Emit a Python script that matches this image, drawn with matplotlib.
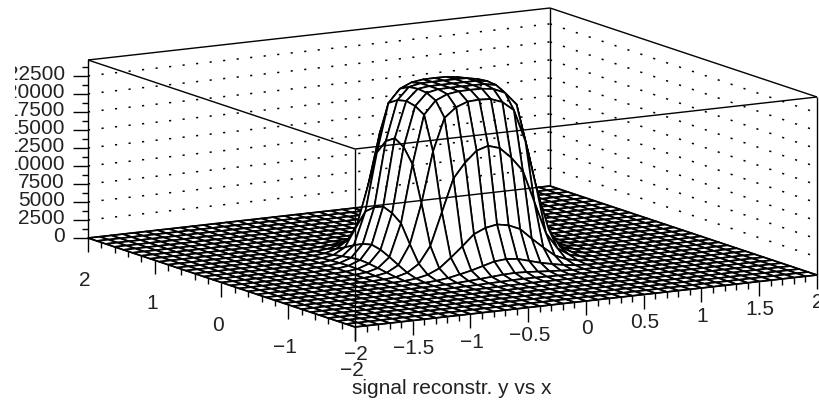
import matplotlib
matplotlib.use("Agg")
import matplotlib.pyplot as plt
from matplotlib.collections import LineCollection, PolyCollection
from matplotlib.patches import Rectangle
import numpy as np

plt.rcParams['font.family'] = ['Liberation Sans', 'DejaVu Sans']

# one quarter of the surface: rows step 0.1 in x, columns step 2/15 in y, outward from (0, 0)
quarter = np.array([
    [24000, 24000, 23950, 23000, 17000, 6500, 2100, 600, 200, 60, 15, 3],
    [24000, 24000, 23920, 22900, 16500, 6200, 1950, 540, 180, 55, 14, 3],
    [24000, 23980, 23700, 22300, 15000, 5500, 1500, 420, 140, 45, 11, 2],
    [23800, 23650, 23000, 21000, 13000, 4000, 1050, 300, 100, 32, 8, 2],
    [22300, 22000, 21200, 16500, 8500, 2600, 700, 200, 70, 20, 5, 1],
    [17300, 16500, 14500, 9500, 4000, 1300, 380, 110, 40, 12, 3, 1],
    [8000, 7500, 6500, 4000, 1700, 600, 180, 60, 20, 6, 2, 0],
    [2900, 2600, 2000, 1300, 650, 250, 85, 30, 10, 3, 1, 0],
    [950, 850, 650, 420, 220, 100, 38, 14, 5, 2, 0, 0],
    [330, 300, 230, 150, 85, 42, 18, 7, 3, 1, 0, 0],
    [120, 110, 85, 58, 35, 18, 8, 3, 1, 0, 0, 0],
    [45, 40, 32, 22, 14, 7, 3, 1, 0, 0, 0, 0],
    [15, 14, 11, 8, 5, 3, 1, 0, 0, 0, 0, 0],
    [5, 4, 3, 2, 1, 1, 0, 0, 0, 0, 0, 0],
    [1, 1, 1, 1, 0, 0, 0, 0, 0, 0, 0, 0],
], dtype=float)

x_major = [-2, -1.5, -1, -0.5, 0, 0.5, 1, 1.5, 2]
x_labels = ['\u22122', '\u22121.5', '\u22121', '\u22120.5', '0', '0.5', '1', '1.5', '2']
y_major = [-2, -1, 0, 1, 2]
y_labels = ['\u22122', '\u22121', '0', '1', '2']
z_major = [0, 2500, 5000, 7500, 10000, 12500, 15000, 17500, 20000, 22500]
z_top = 24700
title = 'signal reconstr. y vs x'

# mirror the quarter out to the whole 41 x 31 grid
nx, ny = 41, 31
part = np.zeros((nx // 2 + 1, ny // 2 + 1))
part[:quarter.shape[0], :quarter.shape[1]] = quarter
Z = np.vstack([part[:0:-1], part])
Z = np.hstack([Z[:, :0:-1], Z])
X, Y = np.meshgrid(np.linspace(-2, 2, nx), np.linspace(-2, 2, ny), indexing='ij')


def project(x, y, z):
    # orthographic box, front corner (-2, -2, 0) sits at pixel (355, 327)
    x = np.asarray(x, dtype=float)
    y = np.asarray(y, dtype=float)
    z = np.asarray(z, dtype=float)
    px = 355 + (x + 2) * 115.5 - (y + 2) * 66.75
    py = 327 - (x + 2) * 13.0 - (y + 2) * 22.25 - z / z_top * 178
    return px, py


def seg3d(a, b):
    p0 = project(*a)
    p1 = project(*b)
    return [(float(p0[0]), float(p0[1])), (float(p1[0]), float(p1[1]))]


fig = plt.figure(figsize=(8.2, 4.04), dpi=100)
ax = fig.add_axes([0, 0, 1, 1])
ax.set_xlim(0, 820)
ax.set_ylim(404, 0)
ax.axis('off')

# surface cells painted from the back corner forward, so the front hides the rest
PX, PY = project(X, Y, Z)
cells = []
depth = []
for i in range(nx - 1):
    for j in range(ny - 1):
        cells.append(np.array([[PX[i, j], PY[i, j]], [PX[i + 1, j], PY[i + 1, j]],
                               [PX[i + 1, j + 1], PY[i + 1, j + 1]], [PX[i, j + 1], PY[i, j + 1]]]))
        depth.append(0.5 * (X[i, j] + X[i + 1, j]) + 0.866 * (Y[i, j] + Y[i, j + 1]))
order = np.argsort(depth)[::-1]
ax.add_collection(PolyCollection([cells[k] for k in order], facecolors='white',
                                 edgecolors='k', linewidths=1.25, zorder=2))

# dotted grid on the two back walls, it shows through the surface
walls = []
for z in z_major[1:]:
    walls.append(seg3d((-2, 2, z), (2, 2, z)))
    walls.append(seg3d((2, 2, z), (2, -2, z)))
ax.add_collection(LineCollection(walls, colors='k', linewidths=1.1,
                                 linestyles=[(0, (1.4, 7.5))], zorder=3))

# box frame
corners = [(-2, 2), (2, 2), (2, -2), (-2, -2)]
frame = []
for k in range(4):
    c0 = corners[k]
    c1 = corners[(k + 1) % 4]
    frame.append(seg3d((*c0, z_top), (*c1, z_top)))
    frame.append(seg3d((*c0, 0), (*c0, z_top)))
    frame.append(seg3d((*c0, 0), (*c1, 0)))
ax.add_collection(LineCollection(frame, colors='k', linewidths=1.0, zorder=3))

# ticks: x every 0.1 with long ones at 0.5, y every 0.2 with long ones at 1
ticks = []
for v in np.arange(-20, 21) / 10:
    px, py = project(v, -2, 0)
    length = 14 if abs(v * 2 - round(v * 2)) < 1e-6 else 6
    ticks.append([(float(px), float(py)), (float(px), float(py) + length)])
for v in np.arange(-10, 11) / 5:
    px, py = project(-2, v, 0)
    length = 14 if abs(v - round(v)) < 1e-6 else 6
    ticks.append([(float(px), float(py)), (float(px), float(py) + length)])
for z in np.arange(0, z_top, 1250):
    px, py = project(-2, 2, z)
    length = 15 if z % 2500 == 0 else 6
    ticks.append([(float(px) - length, float(py)), (float(px), float(py))])
ax.add_collection(LineCollection(ticks, colors='k', linewidths=1.0, zorder=3))

# tick labels
fs = 15
color = '#222222'
for v, lab in zip(x_major, x_labels):
    px, py = project(v, -2, 0)
    ax.text(px + 1, py + 28, lab, fontsize=fs, color=color, ha='center', va='center')
for v, lab in zip(y_major, y_labels):
    px, py = project(-2, v, 0)
    ax.text(px - 3, py + 43, lab, fontsize=fs, color=color, ha='center', va='center')
# left end of the z labels falls off the picture in the original
label_clip = Rectangle((15.5, 0), 807, 404, transform=ax.transData)
for z in z_major:
    px, py = project(-2, 2, z)
    t = ax.text(px - 23, py - 1, str(z), fontsize=fs, color=color, ha='right', va='center',
                clip_on=True)
    t.set_clip_path(label_clip)

ax.text(452, 388, title, fontsize=15, color=color, ha='center', va='center')

fig.savefig('out.png', dpi=100)
